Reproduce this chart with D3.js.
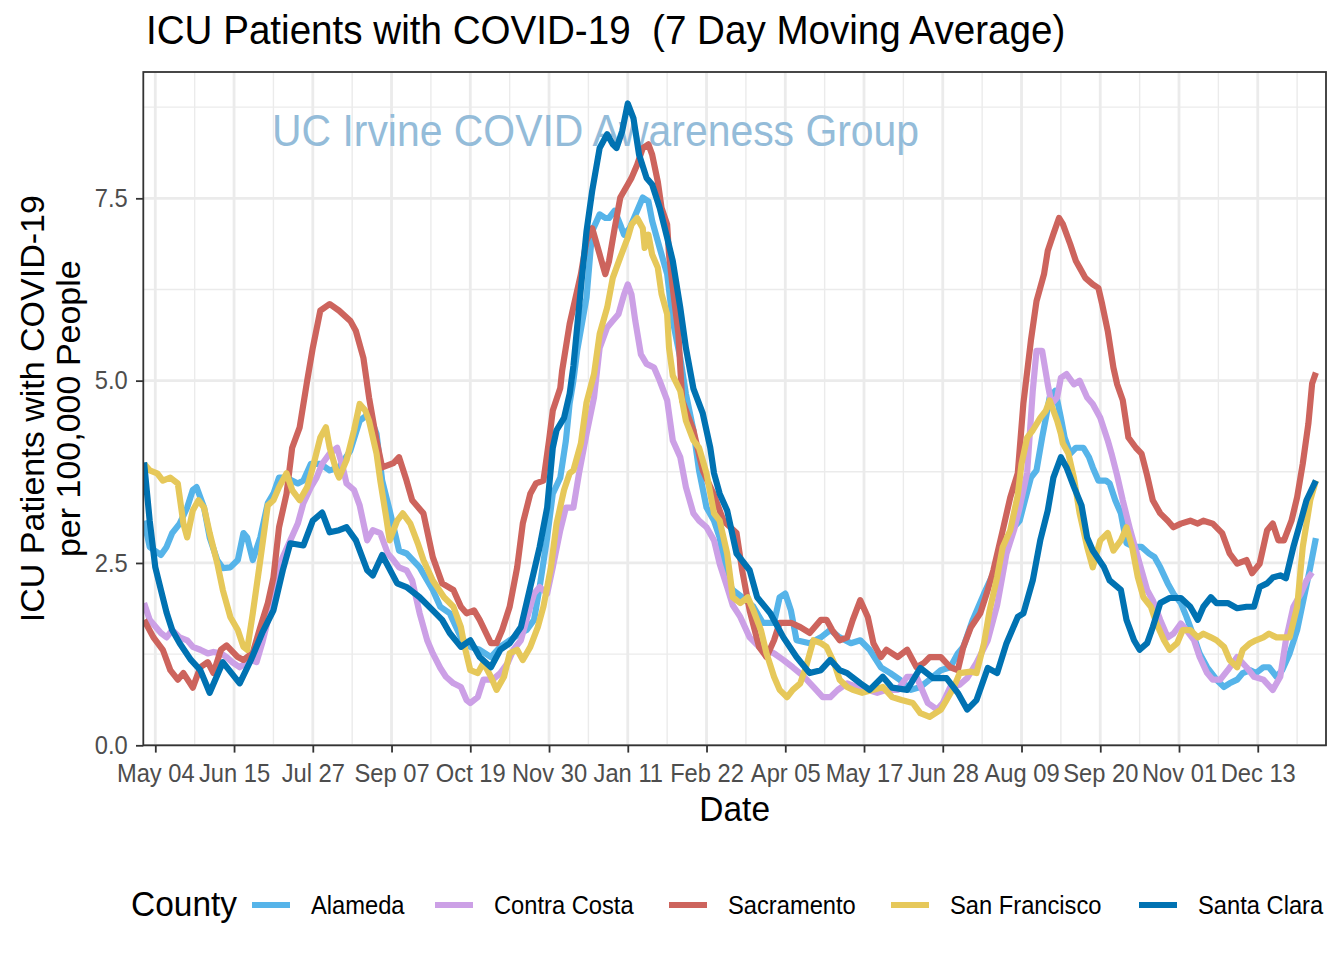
<!DOCTYPE html>
<html>
<head>
<meta charset="utf-8">
<script src="https://cdn.jsdelivr.net/npm/d3@7"></script>
<style>
  body { margin: 0; background: #ffffff; }
  text { font-family: "Liberation Sans", Arial, Helvetica, sans-serif; }
</style>
</head>
<body>
<svg id="chart" width="1344" height="960"></svg>
<script>
// ---------------- data ----------------
const counties = ["Alameda", "Contra Costa", "Sacramento", "San Francisco", "Santa Clara"];
const countyColors = ["#56B4E9", "#CCA0E6", "#CD645D", "#E6C85A", "#0072B2"];

const tickDates = ["2020-05-04","2020-06-15","2020-07-27","2020-09-07","2020-10-19","2020-11-30",
  "2021-01-11","2021-02-22","2021-04-05","2021-05-17","2021-06-28","2021-08-09","2021-09-20",
  "2021-11-01","2021-12-13"];
const tickLabels = ["May 04","Jun 15","Jul 27","Sep 07","Oct 19","Nov 30","Jan 11","Feb 22",
  "Apr 05","May 17","Jun 28","Aug 09","Sep 20","Nov 01","Dec 13"];
const yTicks = [0, 2.5, 5, 7.5];
const yTickLabels = ["0.0", "2.5", "5.0", "7.5"];

// days are counted from 2020-05-04
const alamedaDays = [-6,-3,3,6,9,13,17,20,22,26,29,33,36,40,44,47,49,52,56,60,63,66,70,76,79,83,88,93,98,104,
  109,114,118,121,125,130,134,141,148,152,157,163,168,173,179,184,189,195,198,202,205,209,212,216,219,221,223,225,230,233,
  237,240,242,245,248,250,253,257,260,263,265,269,273,276,280,283,287,290,294,298,301,305,308,313,319,324,330,333,336,339,
  342,349,355,360,365,371,376,381,387,392,397,403,408,413,419,424,428,431,436,442,447,452,458,461,467,470,473,475,477,480,
  483,485,488,491,495,498,500,503,507,509,512,515,518,522,526,530,533,536,540,543,547,550,554,557,561,566,570,573,577,580,
  584,587,591,594,598,601,605,609,612,616,619];
const alamedaValues = [3.08,2.72,2.61,2.72,2.91,3.04,3.26,3.50,3.54,3.26,2.85,2.54,2.43,2.44,2.54,2.91,2.85,2.54,2.85,3.32,
  3.45,3.67,3.67,3.59,3.63,3.86,3.86,3.77,3.81,4.04,4.45,4.55,4.27,3.63,3.22,2.67,2.63,2.44,2.13,1.90,
  1.81,1.48,1.35,1.31,1.21,1.35,1.44,1.54,1.58,1.72,2.17,2.85,3.45,3.67,4.18,4.69,5.00,5.41,6.14,7.05,
  7.28,7.23,7.23,7.33,7.14,7.00,7.09,7.33,7.51,7.46,7.19,6.82,6.46,5.82,5.31,4.82,4.32,3.77,3.26,3.08,
  2.85,2.26,2.13,2.03,1.90,1.68,1.68,2.03,2.08,1.85,1.44,1.40,1.48,1.58,1.48,1.40,1.44,1.31,1.07,0.99,
  0.90,0.76,0.80,0.90,1.03,1.07,1.26,1.35,1.72,2.08,2.36,2.72,2.99,3.08,3.67,3.77,4.22,4.49,4.77,4.86,
  4.49,4.22,4.00,4.08,4.08,3.95,3.81,3.63,3.63,3.59,3.36,3.18,2.77,2.72,2.72,2.63,2.58,2.44,2.22,2.08,
  1.95,1.76,1.48,1.26,1.07,0.90,0.80,0.85,0.90,0.99,1.03,0.99,1.07,1.07,0.94,1.03,1.26,1.58,1.95,2.44,2.84];

const contraCostaDays = [-6,-3,3,6,9,13,17,20,24,28,31,35,38,41,45,51,54,57,61,65,68,72,76,79,83,86,89,93,97,100,
  102,106,109,113,116,120,124,127,130,134,137,141,145,148,152,155,159,163,166,168,172,175,180,184,188,191,195,198,202,205,
  209,212,216,219,223,226,230,234,237,241,244,247,250,252,254,256,259,262,266,269,273,276,280,283,287,290,294,298,301,305,
  308,312,317,322,330,335,340,346,351,356,360,364,369,374,380,385,390,396,401,406,412,417,420,424,429,433,438,444,449,454,
  458,461,465,468,470,473,476,478,481,483,486,490,493,497,500,504,508,510,513,516,520,525,529,532,536,540,543,547,550,554,
  557,561,564,568,572,577,582,586,591,596,600,603,607,611,614,617];
const contraCostaValues = [1.95,1.72,1.54,1.48,1.58,1.48,1.44,1.35,1.31,1.26,1.28,1.26,1.21,1.14,1.07,1.17,1.14,1.40,1.81,2.36,
  2.58,2.81,3.04,3.32,3.54,3.67,3.86,4.00,4.08,3.81,3.59,3.50,3.29,2.81,2.95,2.91,2.63,2.54,2.44,2.40,
  2.26,1.81,1.44,1.26,1.06,0.94,0.85,0.80,0.62,0.58,0.66,0.90,0.90,0.99,1.13,1.31,1.44,1.72,2.08,2.17,
  2.08,2.44,2.95,3.26,3.26,3.73,4.27,4.77,5.45,5.73,5.82,5.91,6.18,6.32,6.18,5.82,5.36,5.23,5.18,5.00,
  4.73,4.18,3.95,3.54,3.18,3.08,2.99,2.81,2.49,2.17,1.92,1.76,1.48,1.35,1.26,1.17,1.07,0.94,0.80,0.66,
  0.66,0.76,0.85,0.80,0.76,0.72,0.76,0.76,0.94,0.94,0.58,0.49,0.58,0.80,0.83,0.92,1.13,1.44,1.92,2.63,
  2.95,3.26,3.74,4.86,5.41,5.41,4.95,4.68,4.77,5.04,5.09,4.95,5.00,4.77,4.68,4.49,4.18,4.00,3.70,3.36,
  2.95,2.49,2.13,1.99,1.72,1.48,1.53,1.67,1.58,1.44,1.21,0.99,0.90,0.90,1.03,1.21,1.07,0.94,0.90,0.76,
  0.94,1.44,1.90,2.08,2.26,2.37];

const sacramentoDays = [-6,-1,4,8,12,15,20,24,28,31,35,38,44,47,52,56,60,63,66,70,73,77,81,84,88,93,98,104,107,111,
  114,118,121,127,130,134,137,143,148,153,159,163,166,170,173,179,182,185,189,193,196,200,203,207,210,212,216,217,221,227,
  230,233,237,240,242,245,248,252,254,257,260,263,265,268,270,273,274,276,279,281,287,292,298,303,310,313,317,322,326,330,
  333,339,344,349,355,358,361,365,369,372,376,380,383,387,390,396,401,406,410,413,419,424,428,431,435,440,444,447,452,456,
  460,463,467,470,474,476,479,482,484,488,491,493,496,500,503,505,508,511,513,516,519,523,526,529,532,536,540,543,547,552,
  556,559,564,569,573,577,582,585,589,593,596,599,602,606,609,612,615,617,619];
const sacramentoValues = [1.72,1.48,1.31,1.03,0.90,0.99,0.79,1.07,1.14,0.99,1.31,1.37,1.21,1.17,1.27,1.62,1.95,2.30,2.99,3.45,
  4.08,4.36,5.00,5.45,5.96,6.05,5.96,5.82,5.68,5.31,4.77,4.18,3.81,3.87,3.95,3.63,3.36,3.18,2.58,2.22,
  2.13,1.90,1.81,1.85,1.72,1.40,1.40,1.58,1.90,2.44,3.04,3.45,3.59,3.63,4.18,4.59,4.90,5.14,5.78,6.46,
  6.92,7.09,6.73,6.46,6.64,7.09,7.51,7.69,7.78,7.96,8.19,8.24,8.10,7.73,7.37,7.14,6.73,6.27,5.64,4.73,
  4.32,3.77,3.43,3.08,2.91,2.40,1.85,1.35,1.21,1.44,1.68,1.68,1.62,1.54,1.72,1.72,1.58,1.44,1.48,1.72,
  1.99,1.76,1.40,1.21,1.31,1.21,1.31,1.07,1.13,1.21,1.21,1.07,1.03,1.35,1.62,1.81,2.13,2.40,2.95,3.40,
  3.73,4.69,5.55,6.09,6.46,6.78,7.01,7.23,7.15,6.87,6.64,6.55,6.41,6.32,6.27,6.05,5.68,5.18,4.95,4.73,
  4.22,4.08,4.00,3.70,3.36,3.18,3.08,2.99,3.04,3.08,3.04,3.08,3.04,2.91,2.63,2.49,2.54,2.36,2.49,2.95,
  3.04,2.81,2.81,3.08,3.40,3.86,4.41,4.96,5.11];

const sanFranciscoDays = [-6,-3,1,4,8,12,15,17,20,23,26,29,33,36,40,44,47,49,52,56,60,63,66,70,73,77,81,84,88,91,
  93,97,98,102,106,109,112,114,118,120,123,125,129,132,136,140,143,148,154,159,163,165,168,172,175,179,182,186,189,193,
  196,200,204,207,211,214,218,221,223,227,230,234,237,241,244,248,252,254,257,260,261,263,265,268,270,273,274,276,280,283,
  287,290,294,298,301,305,308,312,316,319,323,326,330,333,337,340,344,347,351,355,358,362,365,369,372,377,383,388,393,398,
  404,408,413,419,422,426,429,435,438,442,445,449,452,456,460,462,465,468,472,475,477,479,481,483,484,487,490,493,497,500,
  504,508,511,515,518,521,524,527,531,534,538,541,545,548,552,556,559,563,566,570,573,577,580,584,587,591,594,598,601,605,
  609,612,616,619];
const sanFranciscoValues = [3.86,3.77,3.73,3.63,3.67,3.59,3.04,2.85,3.22,3.36,3.26,2.91,2.50,2.13,1.76,1.58,1.35,1.31,1.81,2.54,
  3.29,3.36,3.54,3.73,3.50,3.36,3.54,3.81,4.22,4.36,4.08,3.73,3.67,3.91,4.32,4.68,4.59,4.45,4.00,3.63,
  3.15,2.81,3.08,3.18,3.04,2.77,2.54,2.26,2.03,1.90,1.62,1.35,1.03,0.99,1.13,0.94,0.76,0.94,1.26,1.31,
  1.17,1.35,1.62,1.90,2.44,3.04,3.50,3.73,3.77,4.14,4.70,5.09,5.64,6.00,6.41,6.69,6.96,7.14,7.23,7.09,
  6.82,7.00,6.73,6.55,6.19,5.91,5.45,5.07,4.86,4.45,4.18,4.08,3.73,3.18,3.08,2.63,2.03,1.95,2.03,1.85,
  1.58,1.26,0.94,0.76,0.66,0.76,0.85,1.07,1.44,1.40,1.35,1.13,0.90,0.80,0.76,0.72,0.76,0.80,0.66,0.62,
  0.58,0.44,0.39,0.49,0.62,0.80,0.99,1.01,0.99,1.40,1.85,2.31,2.72,2.95,3.43,3.86,4.22,4.32,4.49,4.59,
  4.73,4.59,4.45,4.27,4.14,4.00,3.66,3.18,2.72,2.44,2.81,2.91,2.67,2.81,2.99,2.72,2.31,2.03,1.90,1.67,
  1.44,1.31,1.40,1.58,1.58,1.48,1.53,1.48,1.44,1.35,1.17,1.07,1.31,1.40,1.44,1.48,1.53,1.48,1.48,1.48,
  1.90,2.72,3.36,3.63];

const santaClaraDays = [-6,-3,0,3,6,9,13,19,24,29,36,45,51,57,63,68,72,79,84,89,93,98,102,107,113,116,121,129,134,141,
  148,153,157,163,168,173,179,184,189,195,200,205,209,212,214,218,221,223,227,230,233,237,241,244,246,249,252,255,258,262,
  265,269,273,276,280,283,287,292,296,298,301,305,310,317,321,328,335,342,349,355,360,365,369,376,381,388,393,401,408,415,
  422,428,433,438,444,449,454,460,463,468,472,476,479,483,486,490,494,497,500,506,509,515,518,522,525,529,532,536,541,547,
  552,556,559,563,566,572,577,582,586,589,593,596,600,603,607,611,614,619];
const santaClaraValues = [3.88,3.08,2.44,2.13,1.82,1.58,1.40,1.17,1.03,0.72,1.14,0.85,1.17,1.54,1.85,2.40,2.77,2.74,3.08,3.19,
  2.92,2.95,2.99,2.81,2.40,2.33,2.61,2.22,2.17,2.03,1.85,1.72,1.54,1.35,1.44,1.21,1.07,1.31,1.40,1.62,
  2.17,2.72,3.26,4.08,4.32,4.49,4.82,5.20,6.27,7.05,7.60,8.19,8.38,8.24,8.19,8.42,8.80,8.60,8.10,7.78,
  7.69,7.37,6.96,6.64,6.00,5.45,4.89,4.55,4.08,3.73,3.45,3.22,2.63,2.40,2.03,1.81,1.48,1.21,0.99,1.03,
  1.17,1.03,0.99,0.85,0.76,0.94,0.79,0.76,1.06,0.92,0.92,0.72,0.49,0.62,1.06,0.99,1.40,1.76,1.81,2.26,
  2.81,3.22,3.67,3.95,3.81,3.54,3.29,2.85,2.67,2.44,2.26,2.13,1.72,1.44,1.31,1.40,1.62,1.95,2.02,2.02,
  1.90,1.72,1.90,2.03,1.95,1.95,1.88,1.90,1.90,2.17,2.22,2.30,2.33,2.29,2.72,3.08,3.36,3.63];

const seriesDays = [alamedaDays, contraCostaDays, sacramentoDays, sanFranciscoDays, santaClaraDays];
const seriesValues = [alamedaValues, contraCostaValues, sacramentoValues, sanFranciscoValues, santaClaraValues];

// ---------------- layout ----------------
const DAY = 86400000;
const baseDate = Date.UTC(2020, 4, 4);
const toDate = d => new Date(baseDate + d * DAY);
const panel = { left: 143.3, right: 1326, top: 72, bottom: 745.3 };
const SX = 0.93;
const FONT = '"Liberation Sans", Arial, Helvetica, sans-serif';
const LINE_W = 6.2;

const svg = d3.select("#chart");
svg.append("rect").attr("width", 1344).attr("height", 960).attr("fill", "#ffffff");

const x = d3.scaleUtc()
  .domain([toDate(-6.4), toDate(624.4)])
  .range([panel.left, panel.right]);
const y = d3.scaleLinear()
  .domain([0, 9.232])
  .range([panel.bottom, panel.top]);

const parseDate = s => { const p = s.split("-").map(Number); return new Date(Date.UTC(p[0], p[1] - 1, p[2])); };
const majorDates = tickDates.map(parseDate);
const minorDates = [];
for (let i = -1; i < majorDates.length; i++) {
  const base = i < 0 ? majorDates[0].getTime() - 42 * DAY : majorDates[i].getTime();
  const m = new Date(base + 21 * DAY);
  if (m >= x.domain()[0] && m <= x.domain()[1]) minorDates.push(m);
}
const yMinor = [1.25, 3.75, 6.25, 8.75].filter(v => v <= y.domain()[1]);

// grid
const grid = svg.append("g");
grid.selectAll("line.xminor").data(minorDates).join("line")
  .attr("x1", d => x(d)).attr("x2", d => x(d)).attr("y1", panel.top).attr("y2", panel.bottom)
  .attr("stroke", "#EBEBEB").attr("stroke-width", 1.4);
grid.selectAll("line.yminor").data(yMinor).join("line")
  .attr("y1", d => y(d)).attr("y2", d => y(d)).attr("x1", panel.left).attr("x2", panel.right)
  .attr("stroke", "#EBEBEB").attr("stroke-width", 1.4);
grid.selectAll("line.xmajor").data(majorDates).join("line")
  .attr("x1", d => x(d)).attr("x2", d => x(d)).attr("y1", panel.top).attr("y2", panel.bottom)
  .attr("stroke", "#EBEBEB").attr("stroke-width", 2.8);
grid.selectAll("line.ymajor").data(yTicks).join("line")
  .attr("y1", d => y(d)).attr("y2", d => y(d)).attr("x1", panel.left).attr("x2", panel.right)
  .attr("stroke", "#EBEBEB").attr("stroke-width", 2.8);

// watermark (under the lines)
svg.append("text")
  .attr("transform", `translate(${x(toDate(234.8))},${y(8.42) + 15}) scale(${SX},1)`)
  .attr("text-anchor", "middle")
  .attr("font-size", 44)
  .attr("fill", "#94BCD9")
  .text("UC Irvine COVID Awareness Group");

// lines
svg.append("defs").append("clipPath").attr("id", "clip")
  .append("rect").attr("x", panel.left).attr("y", panel.top)
  .attr("width", panel.right - panel.left).attr("height", panel.bottom - panel.top);

const line = d3.line().x(d => x(d.date)).y(d => y(d.value));
const lineG = svg.append("g").attr("clip-path", "url(#clip)");
counties.forEach((name, i) => {
  const pts = seriesDays[i].map((d, j) => ({ date: toDate(d), value: seriesValues[i][j] }));
  lineG.append("path").datum(pts)
    .attr("d", line)
    .attr("fill", "none")
    .attr("stroke", countyColors[i])
    .attr("stroke-width", LINE_W)
    .attr("stroke-linejoin", "round")
    .attr("stroke-linecap", "butt");
});

// panel border
svg.append("rect")
  .attr("x", panel.left).attr("y", panel.top)
  .attr("width", panel.right - panel.left).attr("height", panel.bottom - panel.top)
  .attr("fill", "none").attr("stroke", "#333333").attr("stroke-width", 1.8);

// axes
const xAxis = d3.axisBottom(x).tickValues(majorDates).tickFormat((d, i) => tickLabels[i])
  .tickSize(7.3).tickPadding(11.5);
const gx = svg.append("g").attr("transform", `translate(0,${panel.bottom})`).call(xAxis);
gx.select(".domain").remove();
gx.selectAll(".tick line").attr("stroke", "#333333").attr("stroke-width", 1.8);
gx.selectAll(".tick text").attr("fill", "#4D4D4D").attr("font-size", 25.5)
  .attr("font-family", FONT).attr("transform", `scale(${SX},1)`);

const yAxis = d3.axisLeft(y).tickValues(yTicks).tickFormat((d, i) => yTickLabels[i])
  .tickSize(7.3).tickPadding(9.5);
const gy = svg.append("g").attr("transform", `translate(${panel.left},0)`).call(yAxis);
gy.select(".domain").remove();
gy.selectAll(".tick line").attr("stroke", "#333333").attr("stroke-width", 1.8);
gy.selectAll(".tick text").attr("fill", "#4D4D4D").attr("font-size", 25.5)
  .attr("font-family", FONT).attr("transform", `scale(${SX},1)`);

// titles
function label(xp, yp, str, size, anchor, fill) {
  return svg.append("text")
    .attr("transform", `translate(${xp},${yp}) scale(${SX},1)`)
    .attr("text-anchor", anchor)
    .attr("font-size", size)
    .attr("fill", fill || "#000000")
    .text(str);
}
label(146, 44, "ICU Patients with COVID-19  (7 Day Moving Average)", 41.5, "start")
  .style("white-space", "pre");
label((panel.left + panel.right) / 2, 821, "Date", 36, "middle");

const yTitleCenter = (panel.top + panel.bottom) / 2;
svg.append("text")
  .attr("transform", `translate(44,${yTitleCenter}) rotate(-90)`)
  .attr("text-anchor", "middle").attr("font-size", 34).attr("fill", "#000")
  .text("ICU Patients with COVID-19");
svg.append("text")
  .attr("transform", `translate(80,${yTitleCenter}) rotate(-90)`)
  .attr("text-anchor", "middle").attr("font-size", 34).attr("fill", "#000")
  .text("per 100,000 People");

// legend
const legendY = 905;
label(131, 916, "County", 36, "start");
const keyStarts = [252, 435, 669, 891, 1139];
counties.forEach((name, i) => {
  svg.append("line")
    .attr("x1", keyStarts[i]).attr("x2", keyStarts[i] + 38)
    .attr("y1", legendY).attr("y2", legendY)
    .attr("stroke", countyColors[i]).attr("stroke-width", LINE_W);
  label(keyStarts[i] + 59, 914, name, 25.5, "start");
});
</script>
</body>
</html>
